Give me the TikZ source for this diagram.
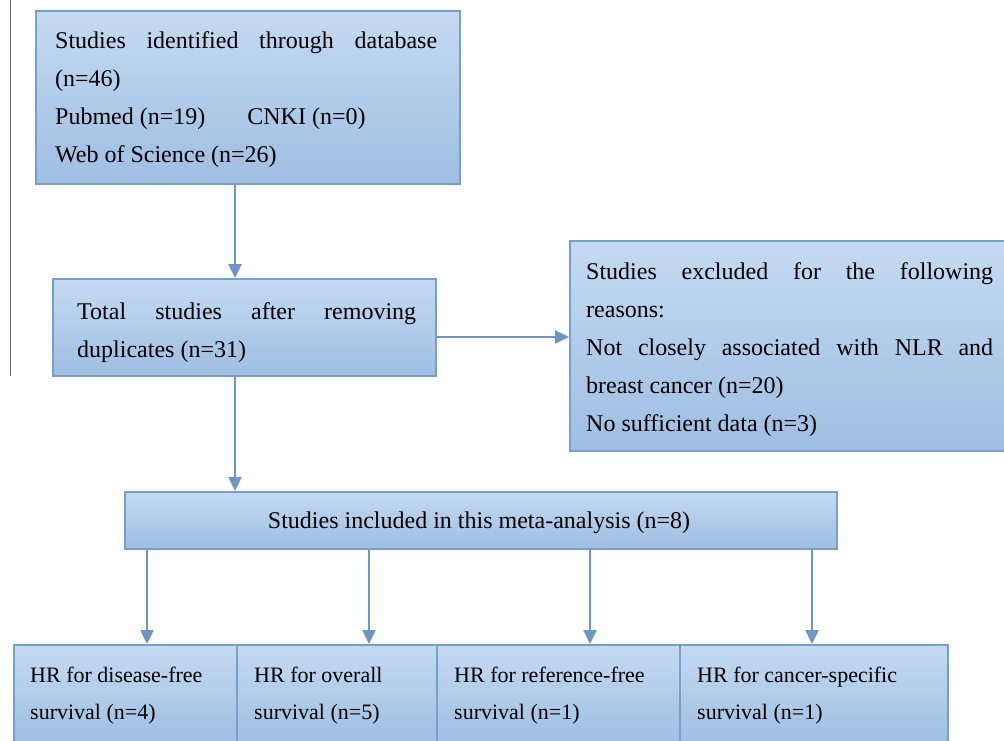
\documentclass[tikz,border=0pt]{standalone}
\usepackage{fontspec}
\setmainfont{Liberation Serif}
\usetikzlibrary{arrows.meta}
\definecolor{boxtop}{HTML}{C4DAF1}
\definecolor{boxbot}{HTML}{9EBEE2}
\definecolor{boxline}{HTML}{789FCB}
\definecolor{arrcol}{HTML}{6D95C5}
\tikzset{
  box/.style={draw=boxline, line width=2.2pt, top color=boxtop, bottom color=boxbot,
    inner sep=0pt, anchor=north west},
  txt/.style={font=\fontsize{24}{38}\selectfont, inner sep=0pt, anchor=west, align=left},
  stxt/.style={txt, font=\fontsize{22}{37}\selectfont},
  arr/.style={draw=arrcol, line width=2.4pt, -{Triangle[length=14pt,width=13pt]}},
}
\begin{document}
\begin{tikzpicture}[x=1pt,y=-1pt]
\useasboundingbox (0,0) rectangle (1004,740);
\draw[gray!80!black, line width=1pt] (10,0) -- (10,376);
% boxes
\node[box, minimum width=424pt, minimum height=173pt] (b1) at (35,10) {};
\node[box, minimum width=383pt, minimum height=97pt] (b2) at (52,278) {};
\node[box, minimum width=450pt, minimum height=210pt] (b3) at (569,240) {};
\node[box, minimum width=712pt, minimum height=57pt] (b4) at (124,491) {};
\node[box, minimum width=223pt, minimum height=100pt] (c1) at (13,644) {};
\node[box, minimum width=200pt, minimum height=100pt] (c2) at (236,644) {};
\node[box, minimum width=243pt, minimum height=100pt] (c3) at (436,644) {};
\node[box, minimum width=268pt, minimum height=100pt] (c4) at (679,644) {};
% texts
\node[txt] (t1) at (55,100) {\makebox[382pt][s]{Studies identified through database}\\(n=46)\\Pubmed (n=19)\hspace{42pt}CNKI (n=0)\\Web of Science (n=26)};
\node[txt] (t2) at (77,333) {\makebox[339pt][s]{Total studies after removing}\\duplicates (n=31)};
\node[txt] (t3) at (586,350) {\makebox[407pt][s]{Studies excluded for the following}\\reasons:\\\makebox[407pt][s]{Not closely associated with NLR and}\\breast cancer (n=20)\\No sufficient data (n=3)};
\node[txt, anchor=center] (t4) at (479,523) {Studies included in this meta-analysis (n=8)};
\node[stxt] (u1) at (30,696) {HR for disease-free\\survival (n=4)};
\node[stxt] (u2) at (254,696) {HR for overall\\survival (n=5)};
\node[stxt] (u3) at (454,696) {HR for reference-free\\survival (n=1)};
\node[stxt] (u4) at (697,696) {HR for cancer-specific\\survival (n=1)};
% arrows
\draw[arr] (b1.south -| 235,0) -- (b2.north -| 235,0);
\draw[arr] (b2.east |- 0,337) -- (b3.west |- 0,337);
\draw[arr] (b2.south -| 235,0) -- (b4.north -| 235,0);
\draw[arr] (b4.south -| 147,0) -- (c1.north -| 147,0);
\draw[arr] (b4.south -| 369,0) -- (c2.north -| 369,0);
\draw[arr] (b4.south -| 590,0) -- (c3.north -| 590,0);
\draw[arr] (b4.south -| 812,0) -- (c4.north -| 812,0);
\end{tikzpicture}
\end{document}
